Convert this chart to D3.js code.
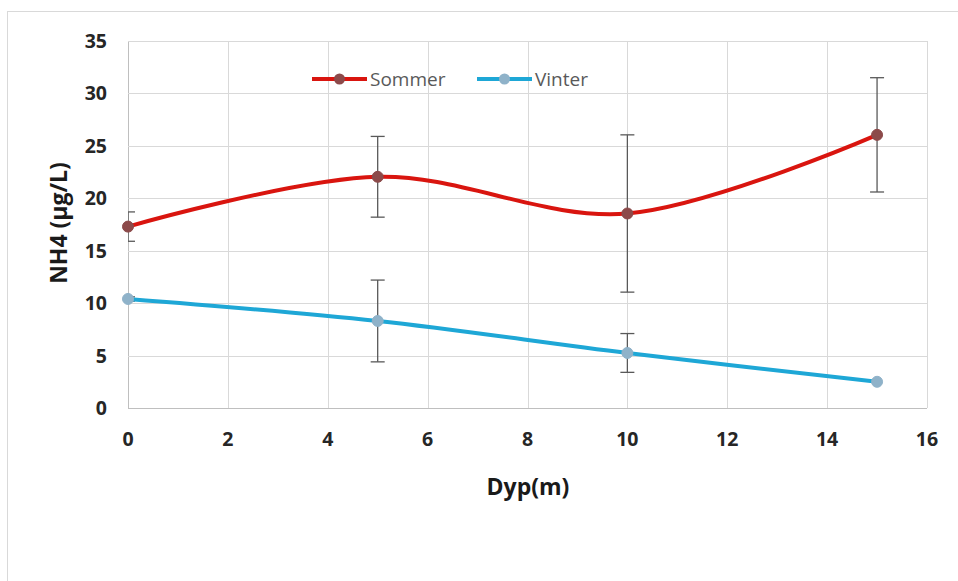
<!DOCTYPE html>
<html lang="en">
<head>
<meta charset="UTF-8">
<title>NH4</title>
<script src="https://cdn.jsdelivr.net/npm/d3@7"></script>
<style>
  body { margin: 0; background: #fff; }
  text { font-family: "Open Sans", "Liberation Sans", sans-serif; }
</style>
</head>
<body>
<script>
// data
var depth = [0, 5, 10, 15];
var sommer = [17.3, 22.05, 18.55, 26.05];
var sommerErr = [1.4, 3.85, 7.5, 5.45];
var vinter = [10.4, 8.3, 5.25, 2.5];
var vinterErr = [0.2, 3.9, 1.85, 0];
var xTicks = [0, 2, 4, 6, 8, 10, 12, 14, 16];
var yTicks = [0, 5, 10, 15, 20, 25, 30, 35];

var W = 958, H = 581;
var svg = d3.select("body").append("svg").attr("width", W).attr("height", H);

// outer frame
svg.append("rect").attr("x", 7.5).attr("y", 11.5).attr("width", 980).attr("height", 620)
  .attr("fill", "none").attr("stroke", "#d9d9d9");

var x = d3.scaleLinear().domain([0, 16]).range([128, 927]);
var y = d3.scaleLinear().domain([0, 35]).range([408, 41]);

// grid
svg.append("g").selectAll("line").data(xTicks).join("line")
  .attr("x1", d => Math.round(x(d)) + 0.5).attr("x2", d => Math.round(x(d)) + 0.5)
  .attr("y1", y(35)).attr("y2", y(0))
  .attr("stroke", d => d === 0 ? "#bfbfbf" : "#d9d9d9");
svg.append("g").selectAll("line").data(yTicks).join("line")
  .attr("y1", d => Math.round(y(d)) + 0.5).attr("y2", d => Math.round(y(d)) + 0.5)
  .attr("x1", x(0)).attr("x2", x(16))
  .attr("stroke", d => d === 0 ? "#bfbfbf" : "#d9d9d9");

// tick labels
svg.append("g").selectAll("text").data(yTicks).join("text")
  .attr("x", 107).attr("y", d => y(d)).attr("dy", "0.36em")
  .attr("text-anchor", "end").attr("font-size", 19.5).attr("font-weight", "bold")
  .attr("fill", "#262626").text(d => d);
svg.append("g").selectAll("text").data(xTicks).join("text")
  .attr("x", d => x(d)).attr("y", 446)
  .attr("text-anchor", "middle").attr("font-size", 19.5).attr("font-weight", "bold")
  .attr("fill", "#262626").text(d => d);

// axis titles
svg.append("text").attr("transform", "translate(59,223) rotate(-90)").attr("dy", "0.36em")
  .attr("text-anchor", "middle").attr("font-size", 23).attr("font-weight", "bold")
  .attr("fill", "#1a1a1a").text("NH4 (µg/L)");
svg.append("text").attr("x", 528).attr("y", 495)
  .attr("text-anchor", "middle").attr("font-size", 23).attr("font-weight", "bold")
  .attr("fill", "#1a1a1a").text("Dyp(m)");

svg.append("clipPath").attr("id", "plot").append("rect")
  .attr("x", x(0)).attr("y", 0).attr("width", x(16) - x(0)).attr("height", y(0));

var series = [
  {name: "Sommer", vals: sommer, err: sommerErr, line: "#d9150f", marker: "#8c4a4a"},
  {name: "Vinter", vals: vinter, err: vinterErr, line: "#1ea7d6", marker: "#8fb2c9"}
];

var lineGen = d3.line().curve(d3.curveCatmullRom.alpha(0))
  .x(d => x(d[0])).y(d => y(d[1]));

series.forEach(function (s) {
  var pts = depth.map((d, i) => [d, s.vals[i], s.err[i]]);
  // error bars
  var eb = svg.append("g").attr("clip-path", "url(#plot)")
    .attr("stroke", "#595959").attr("stroke-width", 1.3);
  pts.filter(p => p[2] > 0).forEach(function (p) {
    var cx = x(p[0]);
    eb.append("line").attr("x1", cx).attr("x2", cx).attr("y1", y(p[1] + p[2])).attr("y2", y(p[1] - p[2]));
    eb.append("line").attr("x1", cx - 7).attr("x2", cx + 7).attr("y1", y(p[1] + p[2])).attr("y2", y(p[1] + p[2]));
    eb.append("line").attr("x1", cx - 7).attr("x2", cx + 7).attr("y1", y(p[1] - p[2])).attr("y2", y(p[1] - p[2]));
  });
  svg.append("path").datum(pts).attr("d", lineGen)
    .attr("fill", "none").attr("stroke", s.line).attr("stroke-width", 4);
  svg.append("g").selectAll("circle").data(pts).join("circle")
    .attr("cx", d => x(d[0])).attr("cy", d => y(d[1])).attr("r", 5.5)
    .attr("fill", s.marker).attr("stroke", s.marker);
});

// legend
var legend = [
  {s: series[0], x1: 312, x2: 367, tx: 370},
  {s: series[1], x1: 477, x2: 532, tx: 535}
];
legend.forEach(function (l) {
  var g = svg.append("g");
  g.append("line").attr("x1", l.x1).attr("x2", l.x2).attr("y1", 79).attr("y2", 79)
    .attr("stroke", l.s.line).attr("stroke-width", 4);
  g.append("circle").attr("cx", (l.x1 + l.x2) / 2).attr("cy", 79).attr("r", 5.5)
    .attr("fill", l.s.marker);
  g.append("text").attr("x", l.tx).attr("y", 79).attr("dy", "0.36em")
    .attr("font-size", 19).attr("fill", "#595959").text(l.s.name);
});
</script>
</body>
</html>
